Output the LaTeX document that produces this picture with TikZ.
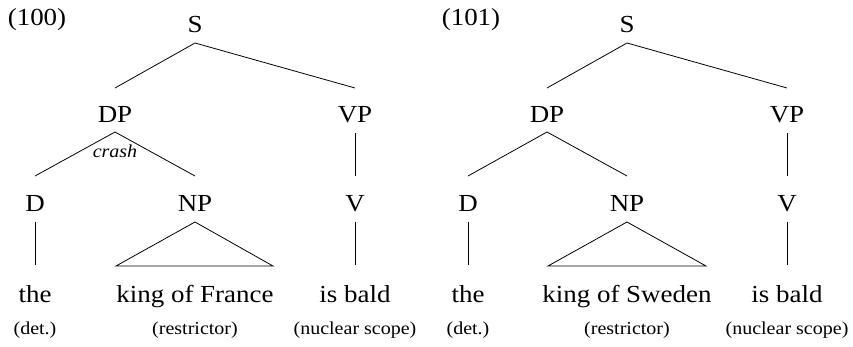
\documentclass[tikz,border=0pt]{standalone}
\usepackage{fontspec}
\setmainfont{Liberation Serif}[FakeStretch=1.1]
\begin{document}
\begin{tikzpicture}[x=1pt,y=-1pt,
  lab/.style={font=\fontsize{24.5}{28}\selectfont, inner sep=0pt, anchor=base},
  sm/.style={font=\fontsize{18.2}{20}\selectfont, inner sep=0pt, anchor=base},
  edge/.style={line width=0.8pt}]
\useasboundingbox (0,0) rectangle (853,347);
% ---------- (100) ----------
\node[lab] (n100) at (37,26) {(100)};
\node[lab] (S1) at (195,33) {S};
\node[lab] (DP1) at (115,123) {DP};
\node[lab] (VP1) at (355,123) {VP};
\node[lab] (D1) at (35,212) {D};
\node[lab] (NP1) at (195,212) {NP};
\node[lab] (V1) at (355,212) {V};
\node[lab] (the1) at (35,302) {the};
\node[lab] (kf1) at (195,302) {king of France};
\node[lab] (bald1) at (355,302) {is bald};
\node[sm] (det1) at (35,334) {(det.)};
\node[sm] (res1) at (195,334) {(restrictor)};
\node[sm] (nuc1) at (355,334) {(nuclear scope)};
\node[sm,font=\fontsize{18.2}{20}\selectfont\itshape] (crash) at (115,158) {crash};
\draw[edge] ([yshift=-10pt]S1.base) -- ([yshift=35pt]DP1.base);
\draw[edge] ([yshift=-10pt]S1.base) -- ([yshift=35pt]VP1.base);
\draw[edge] ([yshift=-9pt]DP1.base) -- ([yshift=36pt]D1.base);
\draw[edge] ([yshift=-9pt]DP1.base) -- ([yshift=36pt]NP1.base);
\draw[edge] ([yshift=-10pt]VP1.base) -- ([yshift=36pt]V1.base);
\draw[edge] ([yshift=-10pt]D1.base) -- ([yshift=37pt]the1.base);
\draw[edge] ([yshift=-10pt]V1.base) -- ([yshift=37pt]bald1.base);
\draw[edge] ([yshift=-10pt]NP1.base) -- ([xshift=-79pt,yshift=36pt]kf1.base) -- ([xshift=78pt,yshift=36pt]kf1.base) -- cycle;
% ---------- (101) ----------
\node[lab] (n101) at (471,26) {(101)};
\node[lab] (S2) at (627,33) {S};
\node[lab] (DP2) at (547,123) {DP};
\node[lab] (VP2) at (787,123) {VP};
\node[lab] (D2) at (468,212) {D};
\node[lab] (NP2) at (627,212) {NP};
\node[lab] (V2) at (787,212) {V};
\node[lab] (the2) at (468,302) {the};
\node[lab] (ks2) at (627,302) {king of Sweden};
\node[lab] (bald2) at (787,302) {is bald};
\node[sm] (det2) at (468,334) {(det.)};
\node[sm] (res2) at (627,334) {(restrictor)};
\node[sm] (nuc2) at (787,334) {(nuclear scope)};
\draw[edge] ([yshift=-10pt]S2.base) -- ([yshift=35pt]DP2.base);
\draw[edge] ([yshift=-10pt]S2.base) -- ([yshift=35pt]VP2.base);
\draw[edge] ([yshift=-9pt]DP2.base) -- ([yshift=36pt]D2.base);
\draw[edge] ([yshift=-9pt]DP2.base) -- ([yshift=36pt]NP2.base);
\draw[edge] ([yshift=-10pt]VP2.base) -- ([yshift=36pt]V2.base);
\draw[edge] ([yshift=-10pt]D2.base) -- ([yshift=37pt]the2.base);
\draw[edge] ([yshift=-10pt]V2.base) -- ([yshift=37pt]bald2.base);
\draw[edge] ([yshift=-10pt]NP2.base) -- ([xshift=-79pt,yshift=36pt]ks2.base) -- ([xshift=79pt,yshift=36pt]ks2.base) -- cycle;
\end{tikzpicture}
\end{document}
